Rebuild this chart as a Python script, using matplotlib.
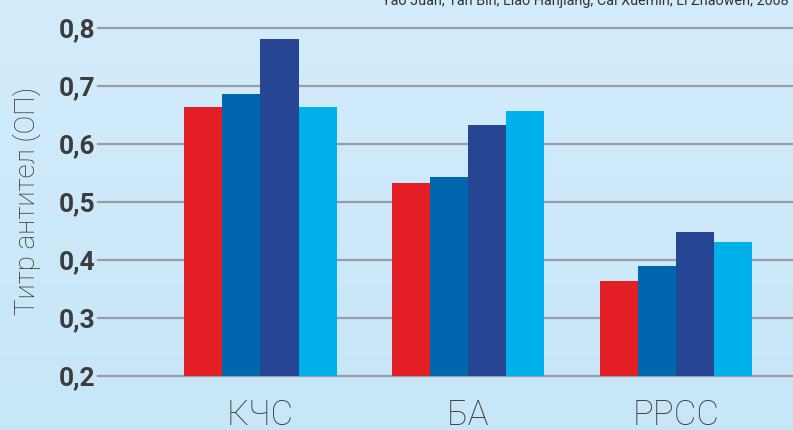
import numpy as np
import matplotlib.pyplot as plt

# --- data ---
groups = ["КЧС", "БА", "РРСС"]
s1 = [0.664, 0.533, 0.364]
s2 = [0.686, 0.543, 0.390]
s3 = [0.781, 0.633, 0.448]
s4 = [0.664, 0.657, 0.431]
series = [s1, s2, s3, s4]
colors = ["#e31e24", "#0066b0", "#264694", "#00b0ea"]
yticks = [0.2, 0.3, 0.4, 0.5, 0.6, 0.7, 0.8]
ytick_labels = ["0,2", "0,3", "0,4", "0,5", "0,6", "0,7", "0,8"]
source = "Yao Juan, Tan Bin, Liao Hanjiang, Cai Xuemin, Li Zhaowen, 2008"

W, H = 793, 430
fig = plt.figure(figsize=(W / 100, H / 100), dpi=100)

# --- background gradient ---
bg = fig.add_axes([0, 0, 1, 1], zorder=-10)
top = np.array([0.827, 0.925, 0.984])
bot = np.array([0.780, 0.902, 0.973])
t = np.linspace(0, 1, 256)[:, None]
grad = top[None, :] * (1 - t) + bot[None, :] * t
bg.imshow(grad[:, None, :].repeat(2, axis=1), aspect="auto", extent=[0, 1, 0, 1])
bg.axis("off")

# --- main axes ---
left_px, right_px = 98, 793
y_bot_px, y_top_px = 376, 28
ax = fig.add_axes([left_px / W, 1 - y_bot_px / H, (right_px - left_px) / W,
                   (y_bot_px - y_top_px) / H])
ax.patch.set_alpha(0)

x = np.arange(len(groups))
bw = 0.183
for i, (vals, c) in enumerate(zip(series, colors)):
    ax.bar(x + (i - 1.5) * bw, np.array(vals) - 0.2, bw, bottom=0.2,
           color=c, zorder=3, linewidth=0)

for yv in yticks:
    ax.axhline(yv, color="#9a9ea2", linewidth=1.6, zorder=1, clip_on=False)

ax.set_ylim(0.2, 0.8)
ax.set_xlim(-0.782, 2.563)
ax.set_yticks(yticks)
ax.set_yticklabels(ytick_labels, fontfamily="Roboto", fontweight="bold",
                   fontsize=19, color="#3c3c3c")
ax.set_xticks(x)
ax.set_xticklabels(groups, fontfamily="Roboto", fontweight="light",
                   fontsize=25, color="#3c3c3c")
ax.tick_params(axis="both", length=0)
ax.tick_params(axis="y", pad=2)
ax.tick_params(axis="x", pad=16)
for s in ax.spines.values():
    s.set_visible(False)

fig.text(27 / W, 1 - 201 / H, "Титр антител (ОП)", rotation=90,
         ha="center", va="center", fontfamily="Roboto", fontweight="light",
         fontsize=20, color="#2e2e2e")

fig.text(382 / W, 1 - 5 / H, source, ha="left", va="baseline",
         fontfamily="Roboto", fontsize=10.4, color="#333333")

fig.savefig("out.png", dpi=100)
